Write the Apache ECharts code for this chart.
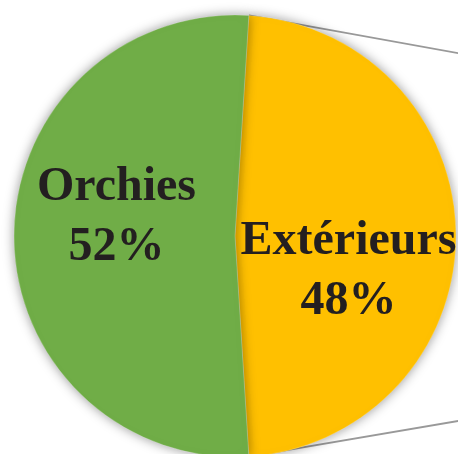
<!DOCTYPE html>
<html><head><meta charset="utf-8">
<script src="https://cdn.jsdelivr.net/npm/echarts@6/dist/echarts.min.js"></script>
<style>html,body{margin:0;padding:0;background:#fff}#c{width:458px;height:454px}</style>
</head><body><div id="c"></div>
<script>
const categories = ['Extérieurs', 'Orchies'];
const values = [48, 52];
const colors = ['#FFC000', '#70AD47'];
const labelShift = [[0, 36], [-5, -18]];

const W = 458, H = 454;
const cx = 235, cy = 236, R = 221;
const startDeg = 86.4; // echarts startAngle (ccw from 3 o'clock)

const chart = echarts.init(document.getElementById('c'), null, {renderer: 'canvas'});

// connector lines of pie-of-pie, computed from slice boundary points
const total = values.reduce((a, b) => a + b, 0);
const a1 = startDeg * Math.PI / 180;
const a2 = (startDeg - 360 * values[0] / total) * Math.PI / 180;
const p1 = [cx + R * Math.cos(a1), cy - R * Math.sin(a1)];
const p2 = [cx + R * Math.cos(a2), cy - R * Math.sin(a2)];
const slope1 = 0.18, slope2 = -0.17;

chart.setOption({
  animation: false,
  backgroundColor: '#fff',
  graphic: [
    {type: 'line', z: -1, shape: {x1: p1[0], y1: p1[1], x2: W + 5, y2: p1[1] + slope1 * (W + 5 - p1[0])}, style: {stroke: '#999999', lineWidth: 1.8}},
    {type: 'line', z: -1, shape: {x1: p2[0], y1: p2[1], x2: W + 5, y2: p2[1] + slope2 * (W + 5 - p2[0])}, style: {stroke: '#999999', lineWidth: 1.8}}
  ],
  series: [{
    type: 'pie',
    center: [cx, cy],
    radius: [0, R],
    startAngle: startDeg,
    clockwise: true,
    z: 2,
    itemStyle: {shadowBlur: 12, shadowColor: 'rgba(0,0,0,0.4)', borderColor: 'rgba(255,255,255,0.4)', borderWidth: 0.5},
    label: {
      position: 'inside',
      formatter: p => p.name + '\n' + p.value + '%',
      fontFamily: 'Liberation Serif',
      fontWeight: 'bold',
      fontSize: 48,
      lineHeight: 60,
      color: '#231F20'
    },
    labelLine: {show: false},
    labelLayout: p => ({dx: labelShift[p.dataIndex][0], dy: labelShift[p.dataIndex][1]}),
    data: categories.map((n, i) => ({name: n, value: values[i], itemStyle: {color: colors[i]}}))
  }]
});
</script></body></html>
